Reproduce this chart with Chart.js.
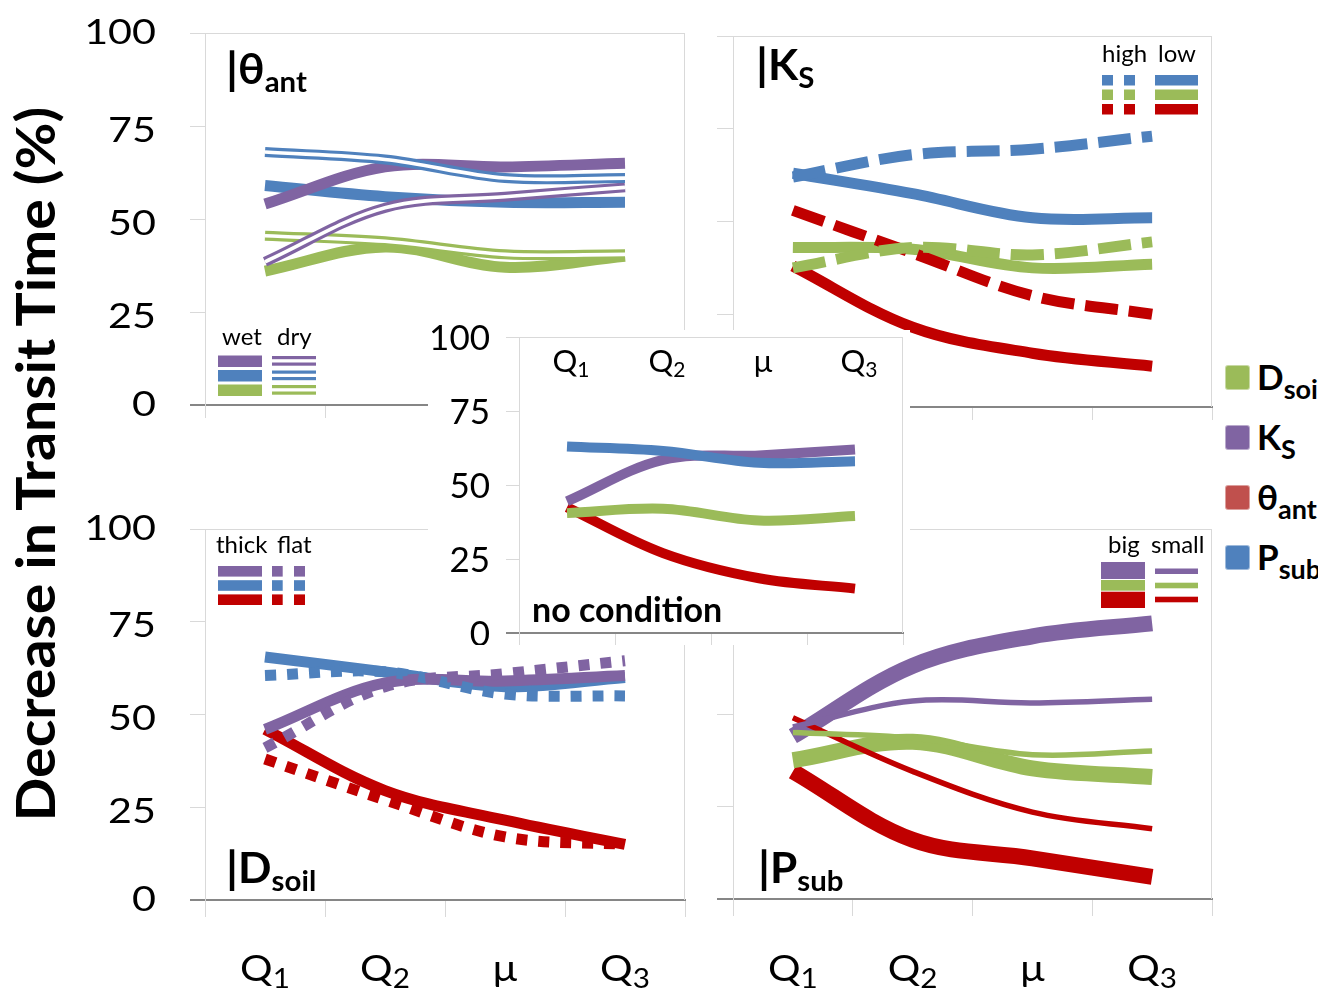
<!DOCTYPE html>
<html>
<head>
<meta charset="utf-8">
<title>Decrease in Transit Time</title>
<script src="https://cdn.jsdelivr.net/npm/chart.js"></script>
<style>
  html, body { margin: 0; padding: 0; background: #fff; }
  #fig { position: relative; width: 1318px; height: 991px; overflow: hidden; background: #fff;
         font-family: Lato, "Open Sans", sans-serif; }
  #fig canvas { position: absolute; }
  #ytitle { position: absolute; white-space: nowrap; font-weight: bold; line-height: 1; color: #000; }
  .key { position: absolute; width: 25px; height: 25px; border-radius: 3px; box-sizing: border-box; }
  .keylab { position: absolute; white-space: nowrap; font-weight: bold; font-size: 35px; line-height: 1; color: #000; }
  .keylab span { font-size: 27px; position: relative; top: 9px; }
</style>
</head>
<body>
<div id="fig">
  <div id="ytitle">Decrease in Transit Time (%)</div>
  <canvas id="pAnt"></canvas>
  <canvas id="pKs"></canvas>
  <canvas id="pDsoil"></canvas>
  <canvas id="pPsub"></canvas>
  <canvas id="pNone"></canvas>
</div>
<script>
// ---- categories and axis ticks ----
const categories = ['Q1', 'Q2', 'μ', 'Q3'];
const yTickValues = [0, 25, 50, 75, 100];

// ---- conditioned on antecedent moisture θant (wet / dry) ----
const antWetKs    = [54, 64, 64, 65];
const antWetPsub  = [59, 56, 54.5, 54.5];
const antWetDsoil = [36, 42.5, 37, 40];
const antDryKs    = [38.5, 53, 56, 58.5];
const antDryPsub  = [68, 66, 61, 61];
const antDryDsoil = [45.5, 44, 40.5, 40.5];

// ---- conditioned on Ks (high / low) ----
const ksHighPsub  = [62, 68, 69.5, 73];
const ksLowPsub   = [63, 57.5, 51, 51];
const ksHighDsoil = [37.5, 43, 41, 44.5];
const ksLowDsoil  = [43, 42.5, 37.5, 38.5];
const ksHighAnt   = [53, 41.5, 30, 25];
const ksLowAnt    = [38, 21.5, 14.5, 11];

// ---- conditioned on Dsoil (thick / flat) ----
const dsThickKs   = [46, 58.5, 59, 60.5];
const dsFlatKs    = [41, 57.5, 61, 64.5];
const dsThickPsub = [65.5, 61.5, 57.5, 60];
const dsFlatPsub  = [60.5, 61.5, 55.5, 55];
const dsThickAnt  = [46, 29.5, 21.5, 15];
const dsFlatAnt   = [38, 27, 17, 15];

// ---- conditioned on Psub (big / small) ----
const psBigKs     = [44, 63, 71, 74.5];
const psSmallKs   = [46.5, 53.5, 53, 54];
const psBigDsoil  = [37.5, 42.5, 35.3, 33];
const psSmallDsoil= [45, 43.5, 39, 40];
const psBigAnt    = [34.5, 16, 11, 6];
const psSmallAnt  = [49, 34.5, 23.5, 19];

// ---- no condition ----
const noneKs      = [44.5, 58.5, 60, 62];
const nonePsub    = [63, 61.5, 57.5, 58];
const noneDsoil   = [40.5, 42, 38, 39.5];
const noneAnt     = [42.5, 27, 18.5, 15];

// ---- legend entries ----
const keyMain = ['D', 'K', 'θ', 'P'];
const keySub  = ['soil', 'S', 'ant', 'sub'];

// ---- styling ----
const COL = { ks: '#8064A2', psub: '#4F81BD', dsoil: '#9BBB59', ant: '#C00000' };
const KEYCOL = ['#9BBB59', '#8064A2', '#C0504D', '#4F81BD'];
const LIGHT = '#d9d9d9';
const AXIS = '#868686';
const FONT = 'Lato, "Open Sans", sans-serif';
const DASH = [33, 11];
const DOT = [11, 11];

function line(data, color, width, dash) {
  return { data, borderColor: color, borderWidth: width, borderDash: dash || [],
           pointRadius: 0, fill: false, tension: 0.35, borderCapStyle: 'butt', borderJoinStyle: 'round' };
}
// double (compound) stroke: a coloured band with a white core
function doubleLine(data, color) {
  return [line(data, color, 10), line(data, '#ffffff', 3.6)];
}
// list is given bottom-to-top; Chart.js paints lower "order" last
function stack(list) {
  list.forEach((d, i) => { d.order = list.length - i; });
  return list;
}

// text helper: sequence of [text, size, weight, dy] drawn with optional horizontal stretch
function drawRich(ctx, parts, x, baseline, align, sx) {
  sx = sx || 1;
  const widths = parts.map(p => { ctx.font = `${p[2]} ${p[1]}px ${FONT}`; return ctx.measureText(p[0]).width; });
  const total = widths.reduce((a, c) => a + c, 0) * sx;
  let cx = align === 'center' ? x - total / 2 : align === 'right' ? x - total : x;
  ctx.textAlign = 'left'; ctx.textBaseline = 'alphabetic'; ctx.fillStyle = '#000';
  parts.forEach((p, i) => {
    ctx.font = `${p[2]} ${p[1]}px ${FONT}`;
    ctx.save(); ctx.translate(cx, baseline + (p[3] || 0)); ctx.scale(sx, 1); ctx.fillText(p[0], 0, 0); ctx.restore();
    cx += widths[i] * sx;
  });
}
function rect(ctx, color, x1, y1, x2, y2) { ctx.fillStyle = color; ctx.fillRect(x1, y1, x2 - x1, y2 - y1); }
function txt(ctx, s, x, baseline, size, weight) { drawRich(ctx, [[s, size, weight || 'normal', 0]], x, baseline, 'left', 1); }

function drawFrame(ctx, chart, b) {
  const ca = chart.chartArea;
  const L = ca.left + b.x, R = ca.right + b.x, T = Math.round(ca.top + b.y) + 0.5, B = ca.bottom + b.y;
  const Rx = Math.round(R) - 0.5;
  ctx.strokeStyle = LIGHT; ctx.lineWidth = 1;
  ctx.beginPath(); ctx.moveTo(L, T); ctx.lineTo(Rx + 0.5, T); ctx.moveTo(Rx, T); ctx.lineTo(Rx, B); ctx.stroke();
}
function yNumbers(ctx, chart, b, rightX, size, sx, nudge) {
  const ys = chart.scales.y;
  yTickValues.forEach(v => {
    const y = ys.getPixelForValue(v) + b.y;
    drawRich(ctx, [[String(v), size, 'normal', 0]], rightX, y + 0.3583 * size + nudge(v), 'right', sx);
  });
}
function xLabels(ctx, chart, b, baseline, size, subSize, subDy, sx, dx) {
  const xs = chart.scales.x;
  categories.forEach((c, i) => {
    const x = xs.getPixelForValue(i) + b.x + dx;
    const parts = [[c[0], size, 'normal', 0]];
    if (c.length > 1) parts.push([c.slice(1), subSize, 'normal', subDy]);
    drawRich(ctx, parts, x, baseline, 'center', sx);
  });
}
function panelTitle(ctx, x, baseline, main, sub) {
  drawRich(ctx, [['|', 44, 'bold', 1], [main, 42, 'bold', 0], [sub, 28, 'bold', 8]], x, baseline, 'left', 1.05);
}

function panel(cfg) {
  const cv = document.getElementById(cfg.id);
  const b = cfg.box, a = cfg.area;
  cv.width = b.w; cv.height = b.h;
  Object.assign(cv.style, { left: b.x + 'px', top: b.y + 'px', width: b.w + 'px', height: b.h + 'px' });
  const yW = a.l - b.x, xH = b.y + b.h - a.b;
  return new Chart(cv, {
    type: 'line',
    data: { labels: categories, datasets: cfg.datasets },
    options: {
      responsive: false, animation: false, devicePixelRatio: 1, events: [],
      layout: { padding: { top: a.t - b.y, right: b.x + b.w - a.r, left: 0, bottom: 0 } },
      plugins: { legend: { display: false }, tooltip: { enabled: false }, title: { display: false } },
      scales: {
        x: {
          type: 'category', offset: true,
          ticks: { display: false },
          grid: { offset: true, drawOnChartArea: false, drawTicks: true, tickLength: cfg.xTick, color: LIGHT, lineWidth: 1 },
          border: { display: true, color: AXIS, width: 2 },
          afterFit: s => { s.height = xH; s.paddingLeft = 0; s.paddingRight = 0; }
        },
        y: {
          min: 0, max: 100,
          ticks: { display: false, stepSize: 25 },
          grid: { drawOnChartArea: false, drawTicks: true, tickLength: cfg.yTick,
                  color: c => (c.tick && c.tick.value === 0) ? AXIS : LIGHT,
                  lineWidth: c => (c.tick && c.tick.value === 0) ? 2 : 1 },
          border: { display: true, color: LIGHT, width: 1 },
          afterFit: s => { s.width = yW; s.paddingTop = 0; s.paddingBottom = 0; }
        }
      }
    },
    plugins: [{
      id: 'panelDecor',
      beforeDraw(chart) {
        if (cfg.backdrop) {
          const c = chart.ctx, r = cfg.backdrop;
          c.save(); c.fillStyle = '#ffffff'; c.fillRect(r.x - b.x, r.y - b.y, r.w, r.h); c.restore();
        }
      },
      afterDraw(chart) {
        const ctx = chart.ctx;
        ctx.save(); ctx.translate(-b.x, -b.y);
        drawFrame(ctx, chart, b);
        if (cfg.decor) cfg.decor(ctx, chart, b);
        ctx.restore();
      }
    }]
  });
}

const nudgeMain = v => (v === 100 || v === 0) ? -2 : 3;

// ---- |θant ----
panel({
  id: 'pAnt', box: { x: 60, y: 0, w: 640, h: 440 }, area: { l: 205, t: 33, r: 685, b: 405 },
  xTick: 13, yTick: 15,
  datasets: stack([
    line(antWetDsoil, COL.dsoil, 11),
    line(antWetPsub, COL.psub, 11),
    line(antWetKs, COL.ks, 11),
    ...doubleLine(antDryDsoil, COL.dsoil),
    ...doubleLine(antDryKs, COL.ks),
    ...doubleLine(antDryPsub, COL.psub)
  ]),
  decor(ctx, chart, b) {
    yNumbers(ctx, chart, b, 156, 35, 1.18, nudgeMain);
    panelTitle(ctx, 226, 84, 'θ', 'ant');
    txt(ctx, 'wet', 222, 345, 24); txt(ctx, 'dry', 277, 345, 24);
    [[COL.ks, 355.5], [COL.psub, 370], [COL.dsoil, 384.5]].forEach(([c, t]) => {
      rect(ctx, c, 218, t, 262, t + 11.5);
      rect(ctx, c, 272, t + 0.5, 316, t + 3.7);
      rect(ctx, c, 272, t + 7, 316, t + 10.2);
    });
  }
});

// ---- |Ks ----
panel({
  id: 'pKs', box: { x: 705, y: 0, w: 520, h: 440 }, area: { l: 733, t: 36, r: 1212, b: 407 },
  xTick: 13, yTick: 16,
  datasets: stack([
    line(ksLowAnt, COL.ant, 11),
    line(ksLowDsoil, COL.dsoil, 11),
    line(ksLowPsub, COL.psub, 11),
    line(ksHighAnt, COL.ant, 11, DASH),
    line(ksHighDsoil, COL.dsoil, 11, DASH),
    line(ksHighPsub, COL.psub, 11, DASH)
  ]),
  decor(ctx) {
    panelTitle(ctx, 756, 80, 'K', 'S');
    txt(ctx, 'high', 1102, 62, 24); txt(ctx, 'low', 1158, 62, 24);
    [[COL.psub, 75], [COL.dsoil, 89.5], [COL.ant, 104]].forEach(([c, t]) => {
      rect(ctx, c, 1102, t, 1113, t + 10.5);
      rect(ctx, c, 1124, t, 1135, t + 10.5);
      rect(ctx, c, 1155, t, 1198, t + 10.5);
    });
  }
});

// ---- |Dsoil ----
panel({
  id: 'pDsoil', box: { x: 60, y: 480, w: 640, h: 511 }, area: { l: 205, t: 529, r: 685, b: 900 },
  xTick: 17, yTick: 15,
  datasets: stack([
    line(dsThickAnt, COL.ant, 11),
    line(dsThickPsub, COL.psub, 11),
    line(dsThickKs, COL.ks, 11),
    line(dsFlatAnt, COL.ant, 11, DOT),
    line(dsFlatPsub, COL.psub, 11, DOT),
    line(dsFlatKs, COL.ks, 11, DOT)
  ]),
  decor(ctx, chart, b) {
    yNumbers(ctx, chart, b, 156, 35, 1.18, nudgeMain);
    xLabels(ctx, chart, b, 981, 37, 27, 7, 1.1, 0);
    panelTitle(ctx, 226, 883, 'D', 'soil');
    txt(ctx, 'thick', 216, 553, 24); txt(ctx, 'flat', 277, 553, 24);
    [[COL.ks, 566], [COL.psub, 580.2], [COL.ant, 594.4]].forEach(([c, t]) => {
      rect(ctx, c, 218, t, 262, t + 10.6);
      rect(ctx, c, 272, t, 282.7, t + 10.6);
      rect(ctx, c, 294, t, 305, t + 10.6);
    });
  }
});

// ---- |Psub ----
panel({
  id: 'pPsub', box: { x: 705, y: 480, w: 520, h: 511 }, area: { l: 733, t: 529, r: 1212, b: 899 },
  xTick: 17, yTick: 16,
  datasets: stack([
    line(psBigAnt, COL.ant, 16),
    line(psBigDsoil, COL.dsoil, 16),
    line(psBigKs, COL.ks, 16),
    line(psSmallAnt, COL.ant, 5.5),
    line(psSmallDsoil, COL.dsoil, 5.5),
    line(psSmallKs, COL.ks, 5.5)
  ]),
  decor(ctx, chart, b) {
    xLabels(ctx, chart, b, 981, 37, 27, 7, 1.1, 0);
    panelTitle(ctx, 758, 883, 'P', 'sub');
    txt(ctx, 'big', 1108, 553, 24); txt(ctx, 'small', 1151, 553, 24);
    rect(ctx, COL.ks, 1101, 562, 1145, 579);
    rect(ctx, COL.dsoil, 1101, 580, 1145, 590.7);
    rect(ctx, COL.ant, 1101, 591.7, 1145, 608);
    rect(ctx, COL.ks, 1155, 568.5, 1198, 574);
    rect(ctx, COL.dsoil, 1155, 582.7, 1198, 588.3);
    rect(ctx, COL.ant, 1155, 596.7, 1198, 602.3);
  }
});

// ---- no condition (inset, painted over the four panels) ----
panel({
  id: 'pNone', box: { x: 428, y: 312, w: 482, h: 333 }, area: { l: 519, t: 337, r: 903, b: 633 },
  xTick: 12, yTick: 13, backdrop: { x: 428, y: 330, w: 482, h: 315 },
  datasets: stack([
    line(noneAnt, COL.ant, 10),
    line(noneDsoil, COL.dsoil, 10),
    line(noneKs, COL.ks, 10),
    line(nonePsub, COL.psub, 10)
  ]),
  decor(ctx, chart, b) {
    yNumbers(ctx, chart, b, 490, 35, 1, () => 0);
    xLabels(ctx, chart, b, 372, 31, 21, 5, 1, 4);
    txt(ctx, 'no condition', 532, 622, 34, 'bold');
  }
});

// ---- axis title ----
(function () {
  const title = document.getElementById('ytitle');
  const m = document.createElement('canvas').getContext('2d');
  m.font = `bold 100px ${FONT}`;
  const fs = 100 * 718 / m.measureText(title.textContent).width;
  const k = 38 / (0.7165 * fs);
  title.style.fontSize = fs + 'px';
  title.style.left = '34px';
  title.style.top = '464px';
  title.style.transform = `translate(-50%, -50%) rotate(-90deg) scaleY(${k})`;
})();

// ---- series key ----
(function () {
  const fig = document.getElementById('fig');
  const tops = [365, 425, 485, 545];
  keyMain.forEach((m, i) => {
    const sw = document.createElement('div');
    sw.className = 'key';
    sw.style.left = '1225px'; sw.style.top = tops[i] + 'px';
    sw.style.background = KEYCOL[i];
    sw.style.border = '1px solid rgba(255,255,255,0.45)';
    fig.appendChild(sw);
    const lab = document.createElement('div');
    lab.className = 'keylab';
    lab.style.left = '1257px'; lab.style.top = (tops[i] + 25 - 0.887 * 35) + 'px';
    lab.textContent = m;
    const s = document.createElement('span');
    s.textContent = keySub[i];
    lab.appendChild(s);
    fig.appendChild(lab);
  });
})();
</script>
</body>
</html>
